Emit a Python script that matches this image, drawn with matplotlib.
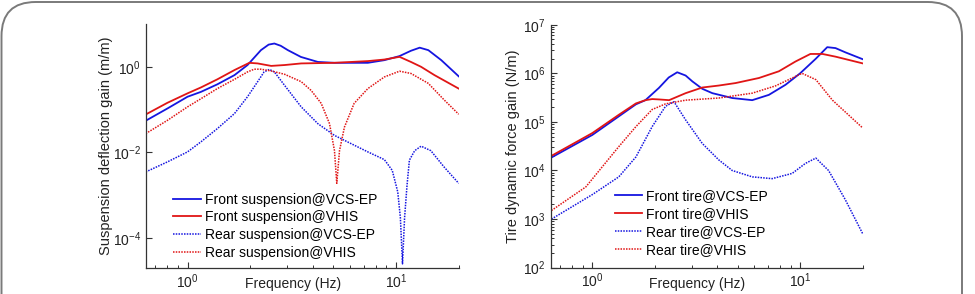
import matplotlib
matplotlib.use("Agg")
import matplotlib.pyplot as plt
from matplotlib.ticker import FixedLocator, LogLocator, NullFormatter, LogFormatterSciNotation
from matplotlib.patches import FancyBboxPatch

plt.rcParams["font.family"] = ["Liberation Sans", "DejaVu Sans"]
plt.rcParams["mathtext.fontset"] = "custom"
plt.rcParams["mathtext.rm"] = "Liberation Sans"

# ---- data: suspension deflection gain (m/m) ----
f_fs_vcs = [0.63, 0.8, 1.0, 1.16, 1.39, 1.68, 1.94, 2.25, 2.45, 2.61, 2.8, 3.03, 3.5, 4.22, 5.07, 7.33,
            8.8, 10.4, 11.8, 13.0, 14.3, 16.5, 20.0]
g_fs_vcs = [0.055, 0.106, 0.2, 0.26, 0.39, 0.64, 1.1, 2.45, 3.3, 3.5, 3.1, 2.45, 1.7, 1.3, 1.24, 1.24,
            1.43, 1.78, 2.37, 2.8, 2.45, 1.43, 0.6]

f_fs_vhis = [0.63, 0.8, 1.0, 1.16, 1.39, 1.68, 1.98, 2.17, 2.52, 2.92, 3.51, 5.07, 7.33, 8.8, 10.4,
             11.8, 13.2, 15.3, 20.0]
g_fs_vhis = [0.077, 0.144, 0.24, 0.33, 0.51, 0.84, 1.24, 1.2, 1.05, 1.1, 1.2, 1.24, 1.36, 1.48, 1.71,
             1.3, 1.0, 0.64, 0.31]

f_rs_vcs = [0.63, 0.8, 1.0, 1.16, 1.39, 1.68, 1.94, 2.17, 2.33, 2.47, 2.61, 2.92, 3.51, 4.22, 5.07,
            6.1, 7.33, 8.8, 9.6, 10.2, 10.5, 10.75, 11.0, 11.3, 11.6, 12.3, 13.2, 14.7, 17.0, 20.0]
g_rs_vcs = [0.0035, 0.006, 0.0103, 0.0177, 0.036, 0.081, 0.2, 0.45, 0.76, 0.87, 0.76, 0.37, 0.116, 0.047,
            0.025, 0.016, 0.0103, 0.0068, 0.0038, 0.0012, 0.0003, 0.000025, 0.0003, 0.0017, 0.0066,
            0.011, 0.014, 0.011, 0.0046, 0.0019]

f_rs_vhis = [0.63, 0.8, 1.0, 1.16, 1.39, 1.68, 1.94, 2.09, 2.25, 2.52, 2.92, 3.51, 3.92, 4.38, 4.8,
             5.07, 5.2, 5.36, 5.66, 6.3, 7.33, 8.8, 10.4, 11.8, 14.3, 17.0, 20.0]
g_rs_vhis = [0.0275, 0.056, 0.116, 0.18, 0.31, 0.51, 0.76, 0.88, 0.88, 0.8, 0.67, 0.45, 0.28, 0.14, 0.047,
             0.011, 0.0019, 0.011, 0.039, 0.14, 0.31, 0.58, 0.79, 0.7, 0.41, 0.17, 0.078]

# ---- data: tire dynamic force gain (N/m) ----
f_ft_vcs = [0.635, 1.0, 1.34, 1.62, 1.80, 2.09, 2.33, 2.56, 2.81, 3.03, 3.38, 3.78, 4.71, 5.88, 7.07,
            8.5, 10.0, 11.9, 13.5, 14.8, 16.5, 20.0]
g_ft_vcs = [1.85e4, 5.4e4, 1.3e5, 2.3e5, 2.8e5, 5.0e5, 8.2e5, 1.05e6, 9.0e5, 6.8e5, 4.8e5, 3.9e5,
            3.1e5, 2.8e5, 3.6e5, 5.8e5, 1.0e6, 2.0e6, 3.45e6, 3.3e6, 2.7e6, 1.95e6]

f_ft_vhis = [0.635, 1.0, 1.34, 1.62, 1.80, 1.94, 2.09, 2.34, 2.81, 3.38, 4.06, 4.89, 6.33, 7.9, 9.5,
             11.2, 12.8, 14.8, 20.0]
g_ft_vhis = [2.0e4, 5.9e4, 1.4e5, 2.4e5, 2.8e5, 2.95e5, 2.9e5, 2.8e5, 3.9e5, 5.1e5, 5.6e5, 6.3e5,
             8.0e5, 1.1e6, 1.75e6, 2.5e6, 2.5e6, 2.2e6, 1.6e6]

f_rt_vcs = [0.635, 1.0, 1.34, 1.62, 1.94, 2.25, 2.47, 2.81, 3.38, 4.06, 4.71, 5.88, 7.33, 9.15, 10.6,
            11.9, 13.7, 16.5, 20.0]
g_rt_vcs = [1.0e3, 3.2e3, 7.4e3, 1.9e4, 8.0e4, 2.1e5, 2.6e5, 1.1e5, 3.6e4, 1.65e4, 1.0e4, 7.4e3, 6.8e3,
            8.7e3, 1.4e4, 1.8e4, 1.0e4, 2.5e3, 5.0e2]

f_rt_vhis = [0.635, 0.93, 1.34, 1.62, 1.94, 2.25, 2.81, 4.06, 5.88, 7.6, 9.15, 10.2, 11.9, 14.3, 20.0]
g_rt_vhis = [1.5e3, 4.6e3, 3.1e4, 8.0e4, 1.8e5, 2.35e5, 2.8e5, 3.1e5, 3.9e5, 5.5e5, 8.0e5, 1.0e6, 7.4e5,
             2.8e5, 7.5e4]

BLUE = "#1515e0"
RED = "#e01515"

fig = plt.figure(figsize=(9.75, 2.94), dpi=100)

# rounded frame around the figure
frame = FancyBboxPatch((1.5 / 975, -0.2), 960.5 / 975, (292 / 294) + 0.2,
                       boxstyle="round,pad=0,rounding_size=0.035", transform=fig.transFigure,
                       facecolor="none", edgecolor="#7a7a7a", linewidth=1.4, mutation_aspect=975 / 294)
fig.patches.append(frame)

ax1 = fig.add_axes([145.7 / 975, 26 / 294, 313 / 975, 244 / 294])
ax2 = fig.add_axes([550.7 / 975, 26.3 / 294, 312 / 975, 243 / 294])


def style_axis(ax):
    ax.set_xscale("log")
    ax.set_yscale("log")
    ax.set_xlim(0.63, 20)
    for s in ["top", "right"]:
        ax.spines[s].set_visible(False)
    for s in ["left", "bottom"]:
        ax.spines[s].set_color("#333333")
        ax.spines[s].set_linewidth(0.9)
    ax.xaxis.set_major_locator(FixedLocator([1, 10]))
    ax.xaxis.set_minor_locator(LogLocator(base=10, subs=range(2, 10)))
    ax.xaxis.set_minor_formatter(NullFormatter())
    ax.xaxis.set_major_formatter(LogFormatterSciNotation())
    ax.tick_params(which="both", direction="in", colors="#333333", labelcolor="#222222", labelsize=10)
    ax.tick_params(which="major", length=4, width=0.8)
    ax.tick_params(which="minor", length=2.5, width=0.7)
    ax.tick_params(axis="x", pad=3)
    ax.set_xlabel("Frequency (Hz)", fontsize=10, color="#222222")
    ax.xaxis.set_label_coords(0.47, -0.037)


# left panel
style_axis(ax1)
ax1.plot(f_fs_vcs, g_fs_vcs, color=BLUE, lw=1.3, label="Front suspension@VCS-EP")
ax1.plot(f_fs_vhis, g_fs_vhis, color=RED, lw=1.3, label="Front suspension@VHIS")
ax1.plot(f_rs_vcs, g_rs_vcs, color=BLUE, lw=1.1, ls=(0, (1, 0.8)), label="Rear suspension@VCS-EP")
ax1.plot(f_rs_vhis, g_rs_vhis, color=RED, lw=1.1, ls=(0, (1, 0.8)), label="Rear suspension@VHIS")
ax1.set_ylim(2e-5, 10)
ax1.yaxis.set_major_locator(FixedLocator([1e-4, 1e-2, 1e0]))
ax1.yaxis.set_minor_locator(FixedLocator([]))
ax1.set_ylabel("Suspension deflection gain (m/m)", fontsize=10.5, color="#222222")
ax1.yaxis.set_label_coords(-0.104, 0.5)
ax1.legend(loc="lower left", bbox_to_anchor=(0.053, -0.012), frameon=False, fontsize=10,
           handlelength=2.0, handletextpad=0.3, labelspacing=0.27, borderpad=0.3)

# right panel
style_axis(ax2)
ax2.plot(f_ft_vcs, g_ft_vcs, color=BLUE, lw=1.3, label="Front tire@VCS-EP")
ax2.plot(f_ft_vhis, g_ft_vhis, color=RED, lw=1.3, label="Front tire@VHIS")
ax2.plot(f_rt_vcs, g_rt_vcs, color=BLUE, lw=1.1, ls=(0, (1, 0.8)), label="Rear tire@VCS-EP")
ax2.plot(f_rt_vhis, g_rt_vhis, color=RED, lw=1.1, ls=(0, (1, 0.8)), label="Rear tire@VHIS")
ax2.set_ylim(1e2, 1e7)
ax2.yaxis.set_major_locator(FixedLocator([1e2, 1e3, 1e4, 1e5, 1e6, 1e7]))
ax2.yaxis.set_minor_locator(LogLocator(base=10, subs=range(2, 10)))
ax2.yaxis.set_minor_formatter(NullFormatter())
ax2.set_ylabel("Tire dynamic force gain (N/m)", fontsize=10.5, color="#222222")
ax2.yaxis.set_label_coords(-0.098, 0.5)
ax2.legend(loc="lower left", bbox_to_anchor=(0.169, 0.0), frameon=False, fontsize=10,
           handlelength=2.0, handletextpad=0.3, labelspacing=0.27, borderpad=0.3)

fig.savefig("out.png", dpi=100)
